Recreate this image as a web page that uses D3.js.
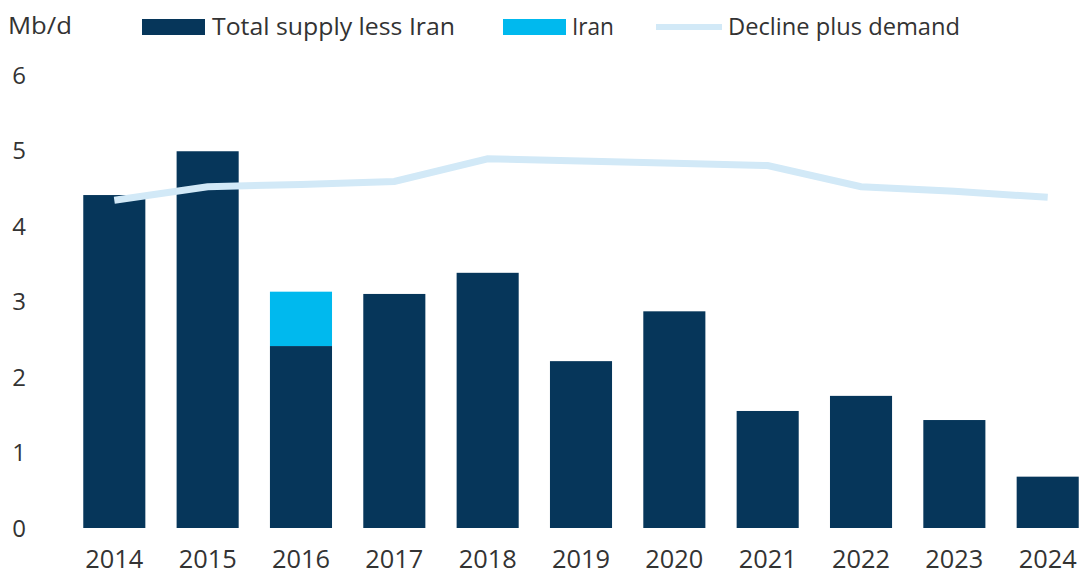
<!DOCTYPE html>
<html>
<head>
<meta charset="utf-8">
<script src="https://cdn.jsdelivr.net/npm/d3@7"></script>
<style>
  body { margin: 0; background: #fff; }
  svg text { font-family: "Open Sans", "Noto Sans", sans-serif; fill: #333; }
</style>
</head>
<body>
<div id="chart"></div>
<script>
// chart data
const years = ["2014", "2015", "2016", "2017", "2018", "2019", "2020", "2021", "2022", "2023", "2024"];
const supplyLessIran = [4.41, 4.99, 2.41, 3.10, 3.38, 2.21, 2.87, 1.55, 1.75, 1.43, 0.68];
const iran = [0, 0, 0.72, 0, 0, 0, 0, 0, 0, 0, 0];
const declinePlusDemand = [4.34, 4.52, 4.55, 4.59, 4.89, 4.86, 4.83, 4.80, 4.52, 4.46, 4.38];
const yTicks = [0, 1, 2, 3, 4, 5, 6];

const width = 1081;
const height = 575;

const svg = d3.select("#chart")
    .append("svg")
    .attr("width", width)
    .attr("height", height);

const x = d3.scaleBand()
    .domain(years)
    .range([52, 1110])
    .padding(0.335);

const y = d3.scaleLinear()
    .domain([0, 6])
    .range([528, 75]);

// y tick labels (no axis line)
svg.append("g")
    .selectAll("text")
    .data(yTicks)
    .enter()
    .append("text")
    .attr("x", 19)
    .attr("y", d => y(d))
    .attr("dy", "0.36em")
    .attr("text-anchor", "middle")
    .style("font-size", "24px")
    .text(d => d);

// stacked bars
const rows = years.map((yr, i) => ({ year: yr, base: supplyLessIran[i], iran: iran[i], line: declinePlusDemand[i] }));

svg.append("g")
    .selectAll("rect")
    .data(rows)
    .enter()
    .append("rect")
    .attr("x", d => x(d.year))
    .attr("width", x.bandwidth())
    .attr("y", d => y(d.base))
    .attr("height", d => y(0) - y(d.base))
    .attr("fill", "#06365a");

svg.append("g")
    .selectAll("rect")
    .data(rows.filter(d => d.iran > 0))
    .enter()
    .append("rect")
    .attr("x", d => x(d.year))
    .attr("width", x.bandwidth())
    .attr("y", d => y(d.base + d.iran))
    .attr("height", d => y(d.base) - y(d.base + d.iran))
    .attr("fill", "#00b9ee");

// line
const line = d3.line()
    .x(d => x(d.year) + x.bandwidth() / 2)
    .y(d => y(d.line));

svg.append("path")
    .datum(rows)
    .attr("d", line)
    .attr("fill", "none")
    .attr("stroke", "#d2e9f7")
    .attr("stroke-width", 7);

// x labels
svg.append("g")
    .selectAll("text")
    .data(years)
    .enter()
    .append("text")
    .attr("x", d => x(d) + x.bandwidth() / 2)
    .attr("y", 568)
    .attr("text-anchor", "middle")
    .attr("textLength", 58)
    .attr("lengthAdjust", "spacingAndGlyphs")
    .style("font-size", "25px")
    .text(d => d);

// unit label
svg.append("text")
    .attr("x", 8)
    .attr("y", 34)
    .attr("textLength", 64)
    .attr("lengthAdjust", "spacingAndGlyphs")
    .style("font-size", "24px")
    .text("Mb/d");

// legend
const legendItems = [
    { label: "Total supply less Iran", type: "rect", color: "#06365a", x: 142, tx: 212, w: 243 },
    { label: "Iran", type: "rect", color: "#00b9ee", x: 503, tx: 572, w: 42 },
    { label: "Decline plus demand", type: "line", color: "#d2e9f7", x: 656, tx: 728, w: 232 }
];

const legend = svg.selectAll(".legend")
    .data(legendItems)
    .enter()
    .append("g")
    .attr("class", "legend");

legend.filter(d => d.type === "rect")
    .append("rect")
    .attr("x", d => d.x)
    .attr("y", 19)
    .attr("width", 63)
    .attr("height", 16)
    .attr("fill", d => d.color);

legend.filter(d => d.type === "line")
    .append("line")
    .attr("x1", d => d.x)
    .attr("x2", d => d.x + 66)
    .attr("y1", 27)
    .attr("y2", 27)
    .attr("stroke", d => d.color)
    .attr("stroke-width", 6);

legend.append("text")
    .attr("x", d => d.tx)
    .attr("y", 35)
    .attr("textLength", d => d.w)
    .attr("lengthAdjust", "spacingAndGlyphs")
    .style("font-size", "24px")
    .text(d => d.label);
</script>
</body>
</html>
